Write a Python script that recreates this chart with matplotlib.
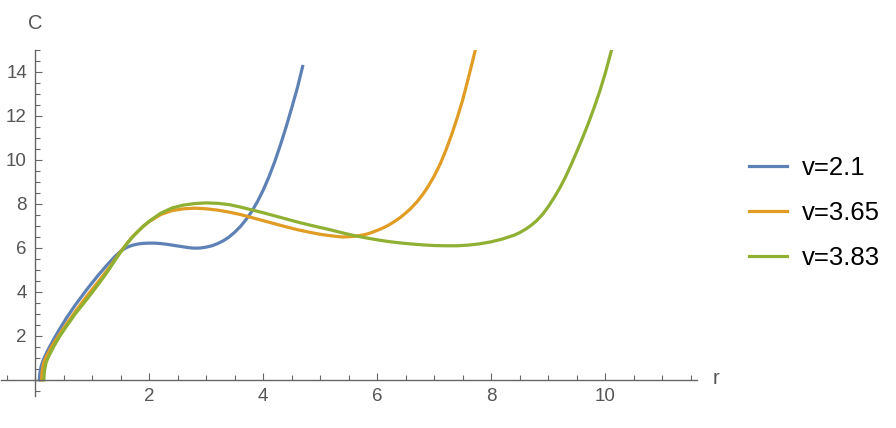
import numpy as np
import matplotlib.pyplot as plt
from matplotlib.ticker import MultipleLocator, FuncFormatter

plt.rcParams['font.family'] = ['Liberation Sans', 'DejaVu Sans']

# v = 2.1
r_a = [0.07, 0.08, 0.1, 0.14, 0.2, 0.26, 0.33, 0.4, 0.55, 0.7, 0.9, 1.1, 1.25, 1.4, 1.5,
       1.6, 1.7, 1.8, 1.9, 2.0, 2.1, 2.2, 2.3, 2.4, 2.5, 2.6, 2.7, 2.8, 2.9, 3.0, 3.1,
       3.2, 3.3, 3.4, 3.5, 3.6, 3.7, 3.8, 3.9, 4.0, 4.1, 4.2, 4.3, 4.4, 4.5, 4.6, 4.69]
c_a = [0.0, 0.3, 0.6, 0.91, 1.25, 1.55, 1.88, 2.2, 2.83, 3.4, 4.1, 4.75, 5.2, 5.62, 5.86,
       6.02, 6.12, 6.18, 6.21, 6.22, 6.22, 6.2, 6.17, 6.13, 6.09, 6.05, 6.01, 5.99, 6.0, 6.04, 6.1,
       6.2, 6.33, 6.5, 6.72, 6.98, 7.3, 7.67, 8.12, 8.64, 9.24, 9.92, 10.68, 11.5, 12.38, 13.3, 14.25]

# v = 3.65
r_b = [0.11, 0.12, 0.15, 0.2, 0.3, 0.4, 0.55, 0.7, 0.9, 1.1, 1.3, 1.5, 1.7, 1.9, 2.0,
       2.2, 2.4, 2.6, 2.8, 3.0, 3.2, 3.4, 3.6, 3.8, 4.0, 4.2, 4.4, 4.6, 4.8, 5.0, 5.2,
       5.3, 5.4, 5.5, 5.6, 5.7, 5.8, 5.9, 6.0, 6.1, 6.2, 6.3, 6.4, 6.5, 6.6, 6.7, 6.8,
       6.9, 7.0, 7.1, 7.2, 7.3, 7.4, 7.5, 7.6, 7.72]
c_b = [0.0, 0.4, 0.8, 1.1, 1.57, 1.98, 2.55, 3.1, 3.8, 4.45, 5.12, 5.85, 6.5, 7.0, 7.2,
       7.52, 7.7, 7.78, 7.81, 7.78, 7.72, 7.63, 7.52, 7.38, 7.24, 7.1, 6.96, 6.83, 6.72, 6.62, 6.55,
       6.52, 6.5, 6.51, 6.53, 6.57, 6.62, 6.7, 6.8, 6.91, 7.04, 7.2, 7.38, 7.59, 7.83, 8.11, 8.44,
       8.83, 9.28, 9.8, 10.42, 11.12, 11.9, 12.75, 13.75, 15.0]

# v = 3.83
r_c = [0.15, 0.16, 0.19, 0.24, 0.32, 0.42, 0.55, 0.7, 0.9, 1.1, 1.2, 1.3, 1.4, 1.5, 1.6,
       1.7, 1.8, 1.9, 2.0, 2.2, 2.4, 2.6, 2.8, 3.0, 3.2, 3.4, 3.6, 3.8, 4.0, 4.2, 4.4,
       4.6, 4.8, 5.0, 5.2, 5.4, 5.6, 5.8, 6.0, 6.2, 6.4, 6.6, 6.8, 7.0, 7.2, 7.4, 7.6,
       7.8, 8.0, 8.2, 8.4, 8.5, 8.6, 8.7, 8.8, 8.9, 9.0, 9.1, 9.2, 9.3, 9.4, 9.5, 9.6,
       9.7, 9.8, 9.9, 10.0, 10.11]
c_c = [0.0, 0.4, 0.8, 1.1, 1.5, 1.95, 2.45, 3.0, 3.65, 4.33, 4.68, 5.05, 5.45, 5.82, 6.17,
       6.48, 6.75, 7.0, 7.22, 7.58, 7.82, 7.95, 8.02, 8.05, 8.03, 7.97, 7.86, 7.73, 7.6, 7.46, 7.32,
       7.18, 7.05, 6.93, 6.81, 6.68, 6.56, 6.46, 6.37, 6.29, 6.23, 6.18, 6.14, 6.11, 6.1, 6.1, 6.13,
       6.19, 6.28, 6.41, 6.58, 6.7, 6.85, 7.03, 7.25, 7.53, 7.88, 8.28, 8.72, 9.22, 9.78, 10.38, 11.0,
       11.65, 12.35, 13.1, 13.95, 15.0]

labels = ['v=2.1', 'v=3.65', 'v=3.83']
colors = ['#5E81B5', '#E19C24', '#8FB032']
axis_gray = '#666666'

fig = plt.figure(figsize=(8.96, 4.28), dpi=100)
ax = fig.add_axes([1.1 / 896, 32 / 428, 695.4 / 896, 346 / 428])

for r, c, lab, col in zip([r_a, r_b, r_c], [c_a, c_b, c_c], labels, colors):
    ax.plot(r, c, color=col, lw=2.3, label=lab, solid_joinstyle='round')

ax.set_xlim(-0.6, 11.6)
ax.set_ylim(-0.73, 15.0)

for s in ['top', 'right']:
    ax.spines[s].set_visible(False)
ax.spines['left'].set_position(('data', 0))
ax.spines['bottom'].set_position(('data', 0))
for s in ['left', 'bottom']:
    ax.spines[s].set_color(axis_gray)
    ax.spines[s].set_linewidth(1.0)

ax.xaxis.set_major_locator(MultipleLocator(2))
ax.xaxis.set_minor_locator(MultipleLocator(0.5))
ax.yaxis.set_major_locator(MultipleLocator(2))
ax.yaxis.set_minor_locator(MultipleLocator(0.5))
hide_zero = FuncFormatter(lambda v, p: '' if abs(v) < 1e-9 else f'{v:g}')
ax.xaxis.set_major_formatter(hide_zero)
ax.yaxis.set_major_formatter(hide_zero)
ax.tick_params(which='both', direction='in', color=axis_gray, labelcolor='#555555',
               labelsize=13.5, width=0.8)
ax.tick_params(which='major', length=5.2, pad=6)
ax.tick_params(which='minor', length=3.4)

ax.annotate('C', xy=(0, 15.0), xytext=(0, 19), textcoords='offset points',
            ha='center', va='center', color='#555555', fontsize=14.5, annotation_clip=False)
ax.annotate('r', xy=(11.6, 0), xytext=(14, 1), textcoords='offset points',
            ha='center', va='center', color='#555555', fontsize=14.5, annotation_clip=False)

ax.legend(loc='center left', bbox_to_anchor=(749 / 896, 0.503), bbox_transform=fig.transFigure,
          frameon=False, fontsize=18.5, handlelength=1.47, handletextpad=0.57,
          labelspacing=0.81, borderpad=0, borderaxespad=0)

fig.savefig('out.png', dpi=100)
